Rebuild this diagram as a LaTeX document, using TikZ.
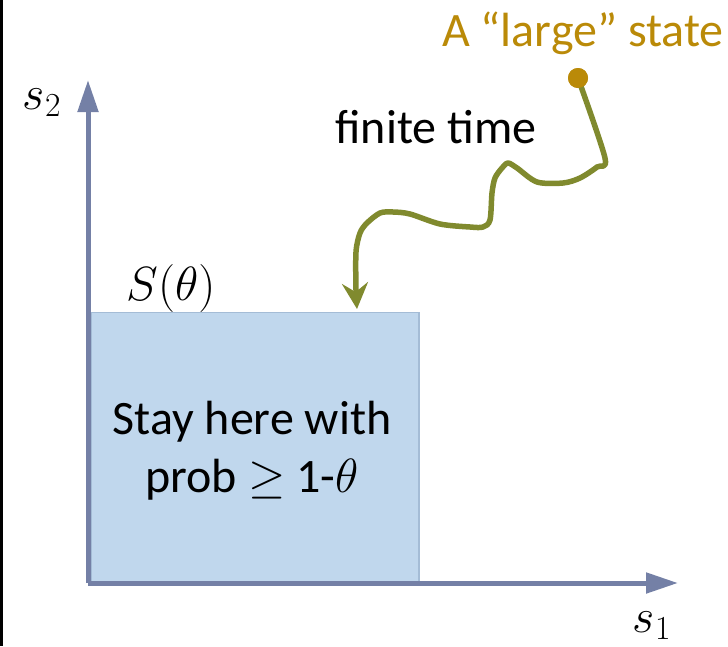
\RequirePackage{fix-cm}
\documentclass[tikz,border=0pt]{standalone}
\usepackage{fontspec}
\setmainfont{Carlito}
\usetikzlibrary{arrows.meta}
\definecolor{axisblue}{RGB}{116,128,166}
\definecolor{boxfill}{RGB}{192,215,237}
\definecolor{boxedge}{RGB}{164,188,214}
\definecolor{walkolive}{RGB}{128,138,46}
\definecolor{stategold}{RGB}{186,138,8}
\tikzset{
	axisline/.style={draw=axisblue, line width=5pt, -{Triangle[width=20pt,length=32pt]}},
	bigtext/.style={font=\fontsize{48}{58}\selectfont, inner sep=0pt, align=center},
	walk/.style={draw=walkolive, line width=5.5pt, line join=round, line cap=round, -{Stealth[width=26pt,length=26pt,inset=9pt]}}
}

\begin{document}
\begin{tikzpicture}[x=1pt,y=-1pt]
			\useasboundingbox(0,0) rectangle (728,646);
			\draw[line width=3pt](1.5,0) -- (1.5,646);
			% region S(theta)
			\node[draw=boxedge, line width=1.5pt, fill=boxfill, minimum width=328pt, minimum height=270pt, anchor=south west, inner sep=0pt] (region) at (90,583) {};
			\node[bigtext] (stay) at (252,451) {Stay here with\\prob $\geq$ 1-$\theta$};
			\node[bigtext] (slabel) at (171,288) {$S(\theta)$};
			% axes
			\coordinate (origin) at (88,583);
			\coordinate (s2end) at (88,80);
			\coordinate (s1end) at (678,583);
			\draw[axisline](origin) -- (s2end);
			\draw[axisline](origin) -- (s1end);
			\node[bigtext] (s2) at (42,103) {$s_2$};
			\node[bigtext] (s1) at (652,626) {$s_1$};
			% the large state and its walk
			\node[bigtext, text=stategold] (large) at (583,33) {A “large” state};
			\fill[stategold](578,78) circle(10) coordinate (state);
			\node[bigtext] (finite) at (436,127) {finite time};
			\coordinate (landing) at (357,309);
			\draw[walk] plot[smooth, tension=0.5] coordinates {(state) (605,158) (597,167) (580,178) (563,183) (537,182) (517,168) (508,163) (502,168) (495,178) (492,193) (490,220) (483,227) (470,227) (440,224) (410,214) (393,212) (380,213) (367,223) (360,233) (356,252) (356,290) (landing)};
			\fill[stategold](state) circle(10);
		\end{tikzpicture}
\end{document}
